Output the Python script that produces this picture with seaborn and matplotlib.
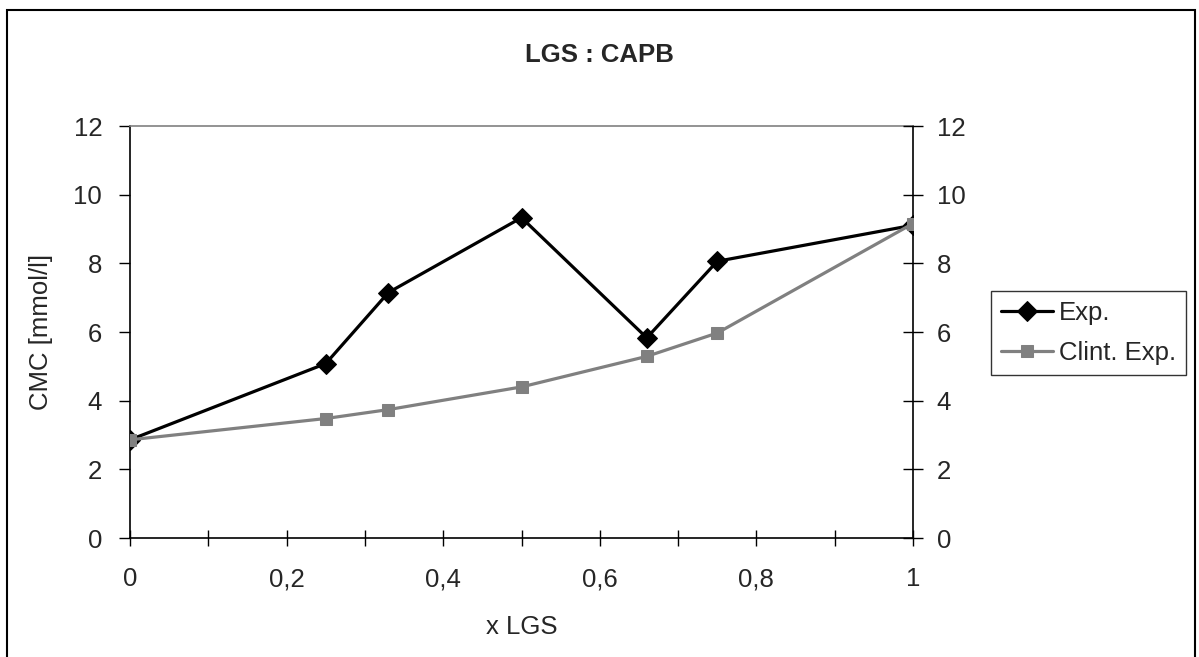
import matplotlib
matplotlib.use("Agg")
import matplotlib.pyplot as plt
import seaborn as sns
import numpy as np
import pandas as pd
from matplotlib.patches import Rectangle
from matplotlib.ticker import MultipleLocator, FixedLocator

x_lgs = [0, 0.25, 0.33, 0.5, 0.66, 0.75, 1.0]
exp_vals = [2.86, 5.08, 7.15, 9.33, 5.83, 8.06, 9.11]
clint_vals = [2.86, 3.48, 3.74, 4.40, 5.29, 5.97, 9.16]
series_names = ["Exp.", "Clint. Exp."]
x_ticks = [0, 0.2, 0.4, 0.6, 0.8, 1.0]
x_ticklabels = ["0", "0,2", "0,4", "0,6", "0,8", "1"]
y_ticks = [0, 2, 4, 6, 8, 10, 12]
title = "LGS : CAPB"
xlabel = "x LGS"
ylabel = "CMC [mmol/l]"

sns.set_theme(style="white")
plt.rcParams['font.family'] = ['Liberation Sans', 'DejaVu Sans']
FS = 18.5

W, H = 1199, 657
fig = plt.figure(figsize=(W / 100, H / 100), dpi=100)
ax = fig.add_axes([130 / W, 1 - 538 / H, (913 - 130) / W, (538 - 126) / H])

df = pd.DataFrame({
    "x": x_lgs * 2,
    "y": exp_vals + clint_vals,
    "series": [series_names[0]] * len(x_lgs) + [series_names[1]] * len(x_lgs),
})

sns.lineplot(data=df[df.series == series_names[0]], x="x", y="y", ax=ax,
             color="black", marker="D", markersize=10, linewidth=2.3,
             markeredgecolor="black", label=series_names[0], zorder=3)
sns.lineplot(data=df[df.series == series_names[1]], x="x", y="y", ax=ax,
             color="#808080", marker="s", markersize=9, linewidth=2.3,
             markeredgecolor="#808080", label=series_names[1], zorder=4)

ax.set_xlim(0, 1)
ax.set_ylim(0, 12)
ax.set_xticks(x_ticks)
ax.set_xticklabels(x_ticklabels, fontsize=FS)
ax.xaxis.set_minor_locator(MultipleLocator(0.1))
ax.set_yticks(y_ticks)
ax.set_yticklabels([str(v) for v in y_ticks], fontsize=FS)
ax.tick_params(axis="x", which="both", direction="inout", length=12, width=1,
               color="black", pad=15, bottom=True)
ax.tick_params(axis="y", direction="out", length=8, width=1, color="black",
               pad=12, left=True)
ax.set_xlabel(xlabel, fontsize=FS, labelpad=17)
ax.set_ylabel(ylabel, fontsize=FS, labelpad=15)

for s in ["left", "bottom", "right"]:
    ax.spines[s].set_color("black")
    ax.spines[s].set_linewidth(1.2)
ax.spines["top"].set_color("#808080")
ax.spines["top"].set_linewidth(1.2)

ax2 = ax.twinx()
ax2.set_ylim(0, 12)
ax2.set_yticks(y_ticks)
ax2.set_yticklabels([str(v) for v in y_ticks], fontsize=FS)
ax2.tick_params(axis="y", direction="inout", length=14, width=1, color="black",
                pad=10, right=True)
for s in ax2.spines.values():
    s.set_visible(False)
ax2.grid(False)
ax.grid(False)

ax.get_legend().remove()
handles, labels = ax.get_legend_handles_labels()
leg = fig.legend(handles, labels, loc="upper left",
                 bbox_to_anchor=(991 / W, 1 - 291 / H), bbox_transform=fig.transFigure,
                 borderaxespad=0, fontsize=FS, frameon=True, fancybox=False,
                 edgecolor="black", handlelength=2.0, handletextpad=0.25,
                 labelspacing=0.6, borderpad=0.4)
leg.get_frame().set_linewidth(1.0)

fig.text(0.5, 1 - 55 / H, title, ha="center", va="center", fontsize=FS,
         fontweight="bold")

fig.add_artist(Rectangle((7 / W, -0.05), (1195 - 7) / W, 1.05 - 10 / H,
                         transform=fig.transFigure, fill=False,
                         edgecolor="black", linewidth=1.5))

fig.savefig("out.png", dpi=100, facecolor="white")
